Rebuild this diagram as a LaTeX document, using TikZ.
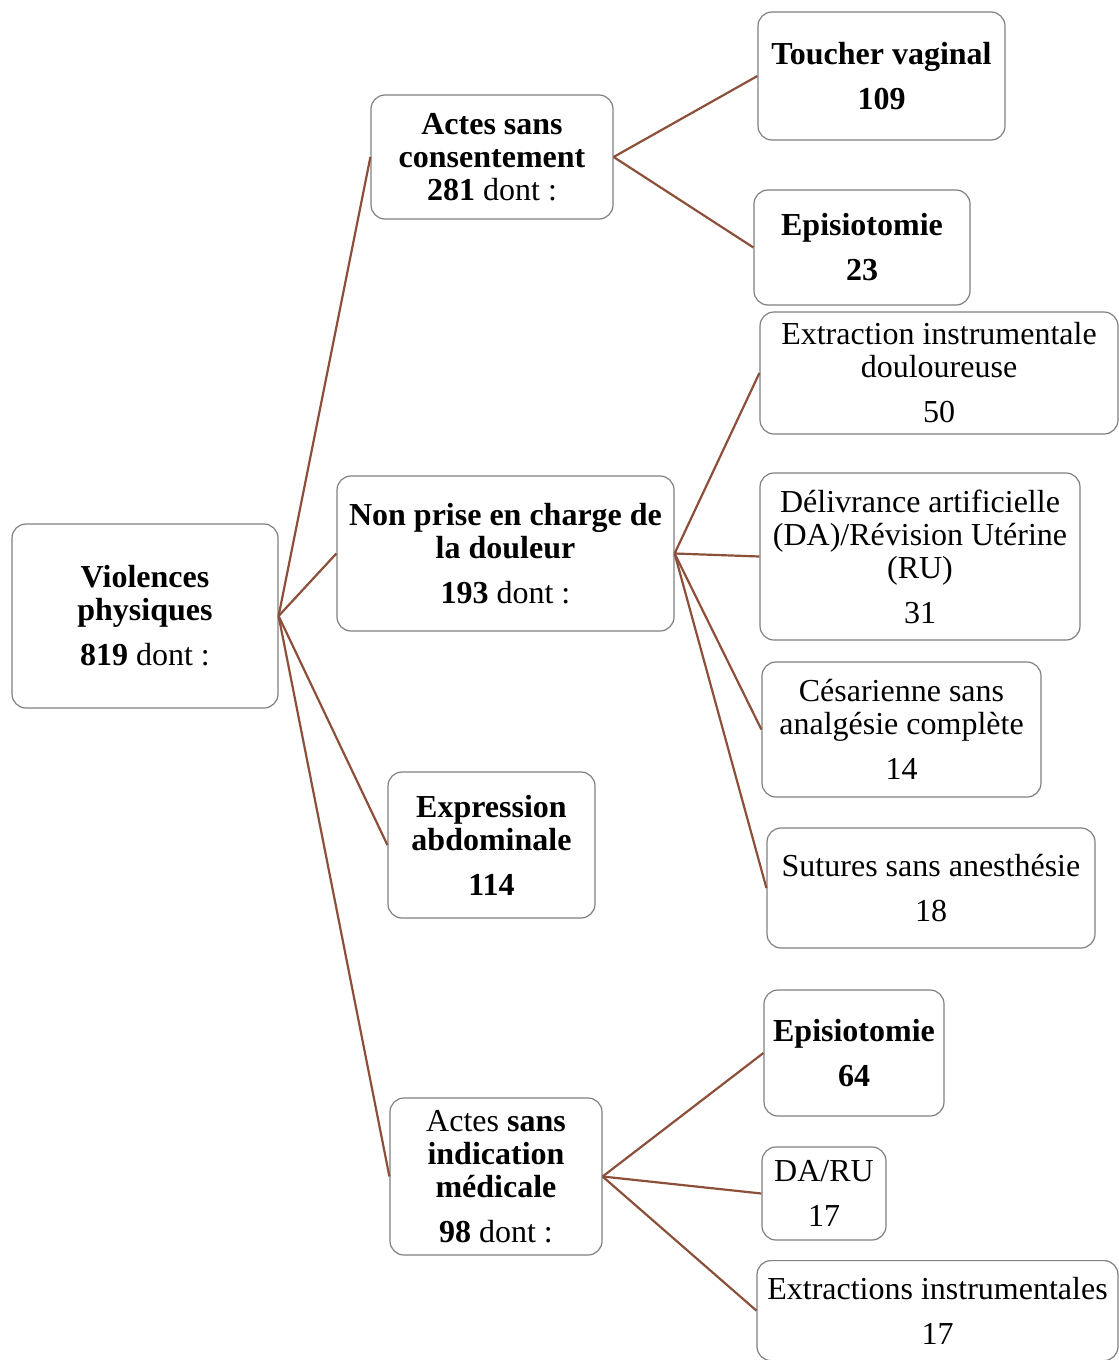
\documentclass[tikz,border=0pt]{standalone}
\usepackage{fontspec}
\setmainfont{Liberation Serif}
\usetikzlibrary{positioning}
\definecolor{linkbrown}{RGB}{140,80,58}
\definecolor{boxgray}{RGB}{128,128,128}
\tikzset{
    % boites arrondies grises
    box/.style={
        draw=boxgray,
        line width=0.6pt,
        rounded corners=7pt,
        fill=white,
        align=center,
        inner sep=0pt,
        font=\fontsize{16}{16.5}\selectfont
    },
    % traits de liaison bruns
    link/.style={
        line width=1.1pt,
        linkbrown
    }
}
\begin{document}
\begin{tikzpicture}[x=0.5pt, y=-0.5pt]
    \useasboundingbox (0,0) rectangle (1119,1360);

    \node[box, minimum width=133pt, minimum height=92pt] (root) at (145,616) {\textbf{Violences}\\\textbf{physiques}\\[6pt]\textbf{819} dont :};

    \node[box, minimum width=121pt, minimum height=62pt] (sanscons) at (492,157) {\textbf{Actes sans}\\\textbf{consentement}\\\textbf{281} dont :};
    \node[box, minimum width=168.5pt, minimum height=77.5pt] (douleur) at (505.5,553.5) {\textbf{Non prise en charge de}\\\textbf{la douleur}\\[6pt]\textbf{193} dont :};
    \node[box, minimum width=103.5pt, minimum height=73pt] (express) at (491.5,845) {\textbf{Expression}\\\textbf{abdominale}\\[6pt]\textbf{114}};
    \node[box, minimum width=106pt, minimum height=78.5pt] (sansind) at (496,1176.5) {Actes \textbf{sans}\\\textbf{indication}\\\textbf{médicale}\\[6pt]\textbf{98} dont :};

    \node[box, minimum width=123.5pt, minimum height=64pt] (toucher) at (881.5,76) {\textbf{Toucher vaginal}\\[6pt]\textbf{109}};
    \node[box, minimum width=108pt, minimum height=57.5pt] (episioA) at (862,247.5) {\textbf{Episiotomie}\\[6pt]\textbf{23}};

    \node[box, minimum width=179pt, minimum height=61pt] (extrac) at (939,373) {Extraction instrumentale\\douloureuse\\[6pt]50};
    \node[box, minimum width=160pt, minimum height=83.5pt] (deliv) at (920,556.5) {Délivrance artificielle\\(DA)/Révision Utérine\\(RU)\\[6pt]31};
    \node[box, minimum width=139.5pt, minimum height=67.5pt] (cesar) at (901.5,729.5) {Césarienne sans\\analgésie complète\\[6pt]14};
    \node[box, minimum width=164pt, minimum height=60pt] (sutures) at (931,888) {Sutures sans anesthésie\\[6pt]18};

    \node[box, minimum width=90pt, minimum height=63pt] (episioB) at (854,1053) {\textbf{Episiotomie}\\[6pt]\textbf{64}};
    \node[box, minimum width=62pt, minimum height=46.5pt] (daru) at (824,1193.5) {DA/RU\\[6pt]17};
    \node[box, minimum width=180.5pt, minimum height=50pt, anchor=north] (extracs) at (937.5,1260) {Extractions instrumentales\\[6pt]17};

    \draw[link] (root.east) -- (sanscons.west);
    \draw[link] (root.east) -- (douleur.west);
    \draw[link] (root.east) -- (express.west);
    \draw[link] (root.east) -- (sansind.west);

    \draw[link] (sanscons.east) -- (toucher.west);
    \draw[link] (sanscons.east) -- (episioA.west);

    \draw[link] (douleur.east) -- (extrac.west);
    \draw[link] (douleur.east) -- (deliv.west);
    \draw[link] (douleur.east) -- (cesar.west);
    \draw[link] (douleur.east) -- (sutures.west);

    \draw[link] (sansind.east) -- (episioB.west);
    \draw[link] (sansind.east) -- (daru.west);
    \draw[link] (sansind.east) -- (extracs.west);
\end{tikzpicture}
\end{document}
